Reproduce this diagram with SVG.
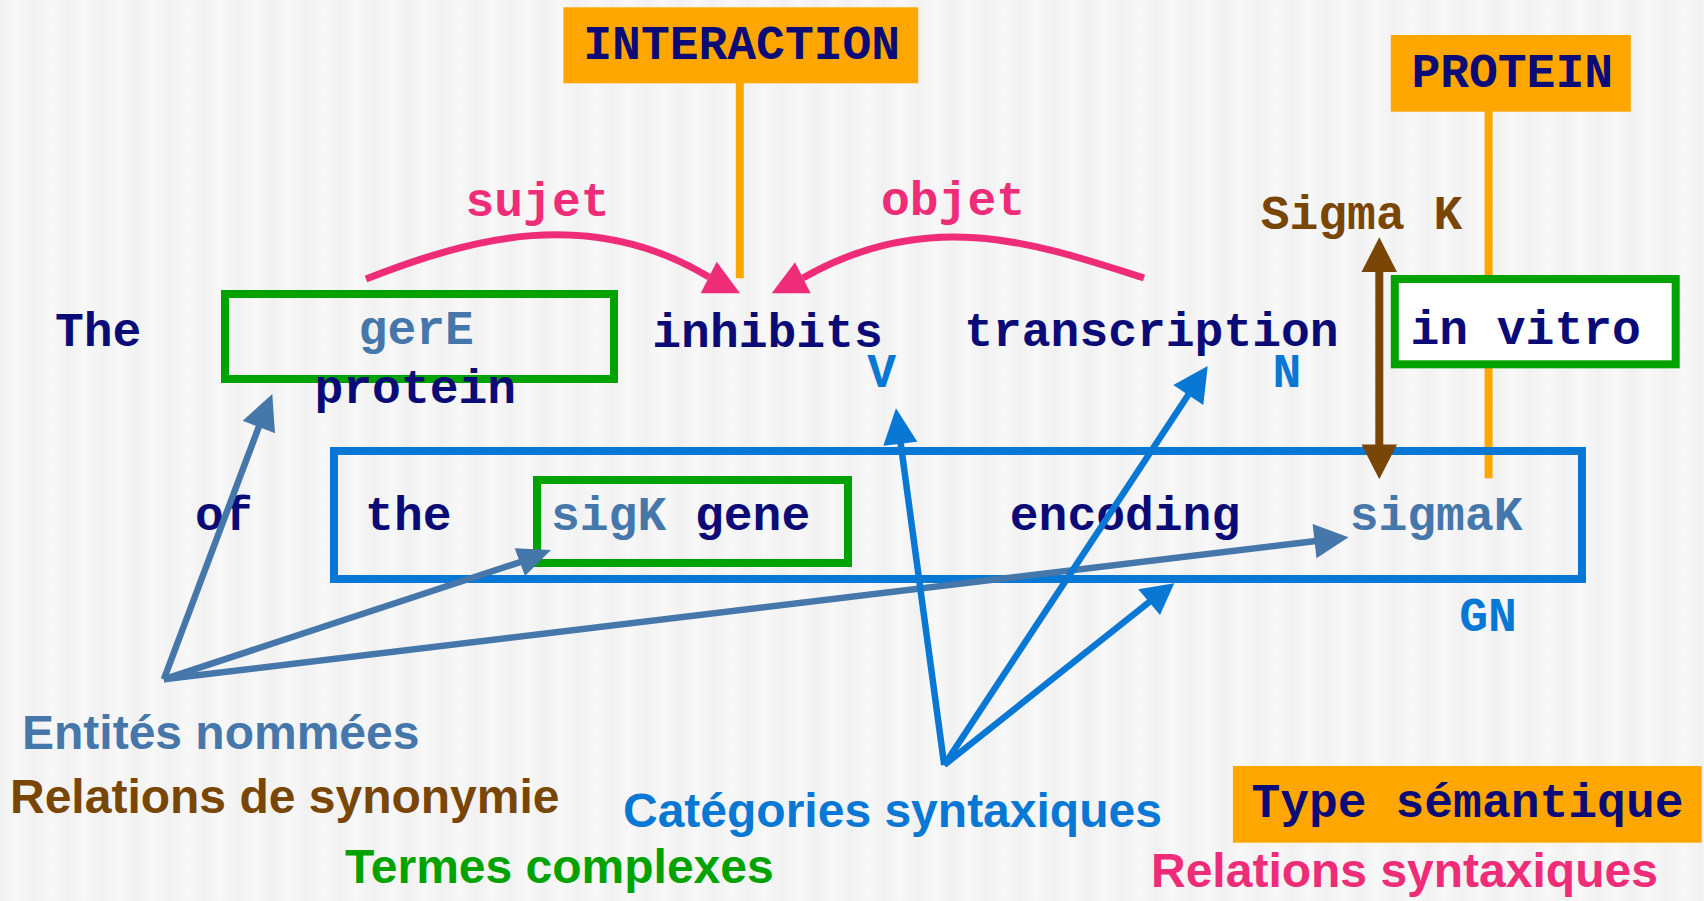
<svg xmlns="http://www.w3.org/2000/svg" width="1704" height="901" viewBox="0 0 1704 901">
  <defs>
    <!-- soft vertical banding of the slide background -->
    <linearGradient id="band" x1="0" y1="0" x2="1" y2="0">
      <stop offset="0" stop-color="#f1f1f1"/>
      <stop offset="0.5" stop-color="#f8f8f8"/>
      <stop offset="1" stop-color="#f1f1f1"/>
    </linearGradient>
    <pattern id="bg" width="34" height="10" patternUnits="userSpaceOnUse">
      <rect width="34" height="10" fill="url(#band)"/>
    </pattern>
    <style>
      .mono { font-family: "Liberation Mono", "Courier New", monospace; font-weight: bold; font-size: 48px; }
      .sans { font-family: "Liberation Sans", Arial, sans-serif; font-weight: bold; font-size: 48px; }
      .navy { fill: #0b0b78; }
      .steel { fill: #4577ab; }
      .blue { fill: #0878d4; }
      .green { fill: #00a200; }
      .pink { fill: #ef2c78; }
      .brown { fill: #7a4606; }
      .tag { fill: #ffa700; }
      .term { fill: none; stroke: #00a200; stroke-width: 8; }
      .term.filled { fill: #ffffff; }
      .tie { stroke: #ffa700; stroke-width: 8; fill: none; }
      .ne { stroke: #4577ab; stroke-width: 6.5; fill: none; }
      .cat { stroke: #0878d4; stroke-width: 6.5; fill: none; }
      .rel { stroke: #ef2c78; stroke-width: 7; fill: none; }
      .syn { stroke: #7a4606; stroke-width: 8; fill: none; }
    </style>
  </defs>

  <rect width="1704" height="901" fill="url(#bg)"/>

  <!-- semantic-type tie lines (behind the word boxes) -->
  <g id="type-links">
    <line class="tie" x1="739.8" y1="83" x2="739.8" y2="278.3"/>
    <line class="tie" x1="1488.6" y1="111" x2="1488.6" y2="478.3"/>
  </g>

  <!-- semantic type tags -->
  <g id="tag-interaction">
    <rect class="tag" x="563.4" y="7.3" width="354.8" height="76"/>
    <text class="mono navy" x="741.7" y="59.3" text-anchor="middle">INTERACTION</text>
  </g>
  <g id="tag-protein">
    <rect class="tag" x="1390.8" y="35" width="240" height="76.7"/>
    <text class="mono navy" x="1512.2" y="87.3" text-anchor="middle">PROTEIN</text>
  </g>

  <!-- sentence, first line -->
  <g id="w-the">
    <text class="mono navy" x="98.2" y="346" text-anchor="middle">The</text>
  </g>
  <g id="term-gere-protein">
    <rect class="term" x="225" y="294" width="389" height="85" stroke-width="7.5"/>
    <text class="mono steel" x="416.2" y="343.5" text-anchor="middle">gerE</text>
    <text class="mono navy" x="415.3" y="403.3" text-anchor="middle">protein</text>
  </g>
  <g id="w-inhibits">
    <text class="mono navy" x="767.5" y="346.5" text-anchor="middle">inhibits</text>
    <text class="mono blue" x="881.6" y="386.7" text-anchor="middle" font-size="44">V</text>
  </g>
  <g id="w-transcription">
    <text class="mono navy" x="1151.4" y="345.5" text-anchor="middle">transcription</text>
    <text class="mono blue" x="1286.8" y="387.3" text-anchor="middle" font-size="44">N</text>
  </g>
  <g id="term-in-vitro">
    <rect class="term filled" x="1394.8" y="279" width="280.9" height="85.3"/>
    <text class="mono navy" x="1525.6" y="344" text-anchor="middle">in vitro</text>
  </g>
  <g id="synonym-sigma-k">
    <text class="mono brown" x="1361.5" y="229.3" text-anchor="middle">Sigma K</text>
  </g>
  <g id="label-sujet">
    <text class="mono pink" x="537.5" y="216" text-anchor="middle" font-size="46">sujet</text>
  </g>
  <g id="label-objet">
    <text class="mono pink" x="953" y="215" text-anchor="middle" font-size="46">objet</text>
  </g>

  <!-- sentence, second line -->
  <g id="w-of">
    <text class="mono navy" x="223.8" y="530" text-anchor="middle">of</text>
  </g>
  <g id="np-gn">
    <rect x="334" y="451" width="1248" height="128" fill="none" stroke="#0878d4" stroke-width="8"/>
    <text class="mono navy" x="408.3" y="530" text-anchor="middle">the</text>
    <text class="mono navy" x="1125" y="530" text-anchor="middle">encoding</text>
    <text class="mono steel" x="1436.1" y="530" text-anchor="middle">sigmaK</text>
    <text class="mono blue" x="1488.1" y="630.7" text-anchor="middle" font-size="44">GN</text>
  </g>
  <g id="term-sigk-gene">
    <rect class="term" x="537" y="480" width="311" height="83"/>
    <text class="mono" x="680.6" y="530" text-anchor="middle"><tspan class="steel">sigK</tspan><tspan class="navy"> gene</tspan></text>
  </g>

  <!-- legend -->
  <g id="legend-entities">
    <text class="sans steel" x="22" y="749.3">Entités nommées</text>
  </g>
  <g id="legend-synonyms">
    <text class="sans brown" x="10" y="812.7">Relations de synonymie</text>
  </g>
  <g id="legend-terms">
    <text class="sans green" x="345" y="883.3">Termes complexes</text>
  </g>
  <g id="legend-categories">
    <text class="sans blue" x="623" y="826.7">Catégories syntaxiques</text>
  </g>
  <g id="legend-type">
    <rect class="tag" x="1232.9" y="766" width="468.8" height="76.7"/>
    <text class="mono navy" x="1467.5" y="816.7" text-anchor="middle">Type sémantique</text>
  </g>
  <g id="legend-relations">
    <text class="sans pink" x="1151" y="886.7">Relations syntaxiques</text>
  </g>

  <!-- connectors -->
  <g id="connectors">
    <!-- syntactic relations -->
    <path class="rel" d="M366 279 C470 238 590 205 709 277"/>
    <polygon class="pink" points="740,293.3 700.7,293.3 716.7,261.7"/>
    <path class="rel" d="M1144 278 C1040 245 930 205 803 278"/>
    <polygon class="pink" points="771.7,293.3 810.7,293.3 795,262.3"/>

    <!-- synonymy -->
    <line class="syn" x1="1379.3" y1="268" x2="1379.3" y2="448"/>
    <polygon class="brown" points="1379.3,237.3 1361.5,272 1397,272"/>
    <polygon class="brown" points="1379.3,479.3 1361.5,444.5 1397,444.5"/>

    <!-- named entities -->
    <line class="ne" x1="163.8" y1="679.3" x2="259.5" y2="425"/>
    <polygon class="steel" points="272.3,394 242.7,420.7 275,433.3"/>
    <line class="ne" x1="163.8" y1="679.3" x2="521" y2="561.8"/>
    <polygon class="steel" points="551,550 514.7,548.3 525,576"/>
    <line class="ne" x1="163.8" y1="679.3" x2="1316" y2="541"/>
    <polygon class="steel" points="1348.5,537.3 1312.6,524 1316.5,558.3"/>

    <!-- syntactic categories -->
    <line class="cat" x1="944.2" y1="765" x2="900.5" y2="442"/>
    <polygon class="blue" points="896,408.3 883.3,445.7 917.3,441.7"/>
    <line class="cat" x1="944.2" y1="765" x2="1189.5" y2="393"/>
    <polygon class="blue" points="1207.7,366 1173.3,385 1203.3,405"/>
    <line class="cat" x1="944.2" y1="765" x2="1150.5" y2="601"/>
    <polygon class="blue" points="1174.3,583.3 1138.3,589.3 1160,615"/>
  </g>
</svg>
